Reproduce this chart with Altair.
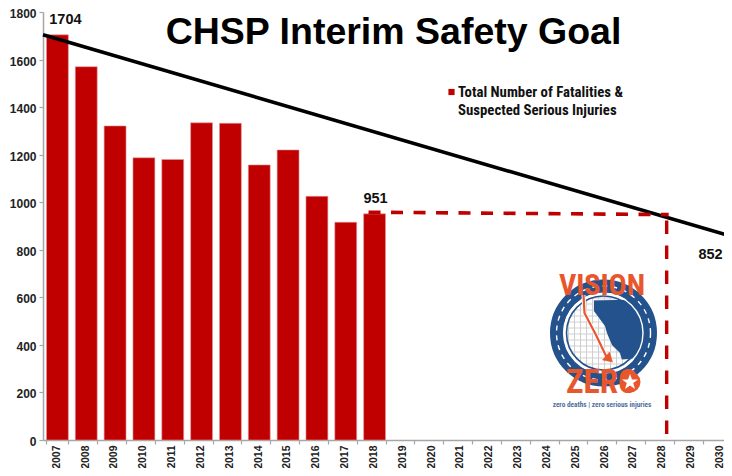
import altair as alt
import pandas as pd

# ---- chart values
years = [str(y) for y in range(2007, 2031)]
bar_years = years[:12]
bar_values = [1704, 1570, 1321, 1187, 1180, 1334, 1332, 1157, 1220, 1025, 916, 951]
y_ticks = list(range(0, 1801, 200))
goal_x = [2006.5, 2030.5]
goal_y = [1704, 852]
hold_x = [2017.79, 2028.2]
hold_y = [958, 948]
drop_x = [2028.13, 2028.13]
drop_y = [948, 17]
label_years = ["2007", "2018", "2030"]
label_values = [1704, 951, 852]
label_text = ["1704", "951", "852"]
title_text = "CHSP Interim Safety Goal"
legend_lines = ["Total Number of Fatalities &", "Suspected Serious Injuries"]

RED = "#C00000"
GREY = "#A6A6A6"
ORANGE = "#E8562E"
NAVY = "#24528C"
SANS = "Liberation Sans"
NARROW = "Roboto Condensed, Open Sans Condensed, Noto Sans Condensed, Liberation Sans"

x_band = alt.Scale(domain=years, paddingInner=0.24, paddingOuter=0.12, range=[0, 692])
x_lin = alt.Scale(domain=[2006.5, 2030.5], nice=False, zero=False, range=[0, 692])
y_lin = alt.Scale(domain=[0, 1800], nice=False)

bars = alt.Chart(pd.DataFrame({"year": bar_years, "value": bar_values})).mark_bar(
    color=RED, stroke="#E3A0A0", strokeWidth=0.6
).encode(
    x=alt.X("year:N", scale=x_band, sort=years, title=None, axis=alt.Axis(
        labelAngle=270, labelFont=SANS, labelFontWeight="bold", labelFontSize=10.5,
        labelColor="#222222", labelPadding=1, labelBaseline="middle", labelAlign="right",
        labelOffset=-1.2, tickBand="extent", tickSize=4, tickColor=GREY, domainColor=GREY,
        domainWidth=1.5, tickWidth=1.2, labelOverlap=False, labelLimit=60)),
    y=alt.Y("value:Q", scale=y_lin, title=None, axis=alt.Axis(
        values=y_ticks, format="d", grid=False, labelFont=SANS, labelFontWeight="bold", labelFontSize=12,
        labelColor="#222222", labelOffset=1.5, tickSize=4, tickColor=GREY, domainColor=GREY, domainWidth=1.5,
        tickWidth=1.2, labelPadding=3)),
)


def line(xs, ys, **mark):
    return alt.Chart(pd.DataFrame({"x": xs, "y": ys})).mark_line(**mark).encode(
        x=alt.X("x:Q", scale=x_lin, axis=None),
        y=alt.Y("y:Q", scale=y_lin, title=None),
    )


goal = line(goal_x, goal_y, color="black", strokeWidth=3.6)
hold = line(hold_x, hold_y, color=RED, strokeWidth=3.6, strokeDash=[12, 10.5])
drop = line(drop_x, drop_y, color=RED, strokeWidth=3.4, strokeDash=[13.5, 11.5], strokeDashOffset=19)


def value_text(dx, dy, yr, val, txt):
    return alt.Chart(pd.DataFrame({"year": [yr], "value": [val], "t": [txt]})).mark_text(
        font=SANS, fontWeight="bold", fontSize=14.5, color="#111111", dx=dx, dy=dy
    ).encode(
        x=alt.X("year:N", scale=x_band, sort=years, axis=None),
        y=alt.Y("value:Q", scale=y_lin, title=None),
        text="t:N",
    )


labels = [
    value_text(8, -15, label_years[0], label_values[0], label_text[0]),
    value_text(1, -15, label_years[1], label_values[1], label_text[1]),
    value_text(-10, 18, label_years[2], label_values[2], label_text[2]),
]

one = pd.DataFrame({"k": [0]})
ox, oy = 43, 12  # page position of the plot origin


def px(v):
    return alt.value(v - ox)


def py(v):
    return alt.value(v - oy)


legend_mark = alt.Chart(one).mark_point(shape="square", filled=True, color=RED, size=38, opacity=1).encode(
    x=px(451.5), y=py(92))
legend_text = [
    alt.Chart(pd.DataFrame({"t": [t]})).mark_text(
        font=NARROW, fontWeight="bold", fontSize=14.8, color="#111111", align="left", baseline="middle"
    ).encode(x=px(458), y=py(py_), text="t:N")
    for t, py_ in zip(legend_lines, [93, 111])
]

# ---- Vision Zero badge
cx, cy = 603.5, 333


def shape(path, **mark):
    mark.setdefault("opacity", 1)
    return alt.Chart(one).mark_point(shape=path, size=4, **mark).encode(x=px(cx), y=py(cy))


def ring(r, **mark):
    mark.setdefault("opacity", 1)
    return alt.Chart(one).mark_point(shape="circle", size=(2 * r) ** 2, filled=False, **mark).encode(
        x=px(cx), y=py(cy))


grid_path = ""
for g in range(-35, 36, 6):
    half = int((37 ** 2 - g ** 2) ** 0.5)
    grid_path += f"M{g} {-half}L{g} {half}M{-half} {g}L{half} {g}"
map_path = ("M-10 -33L33 -34L42 -18L44 0L41 18L31 26L18 27L16 20L8 12L3 0L1 -7L-10 -22Z")
arrow_path = "M-20 -38L-19 -20L-7 3L4 26"
head_path = "M-1 27L9 29L6 19Z"
star_path = "M0 -8L2 -2.5L8 -2.5L3.2 1L5 7L0 3.4L-5 7L-3.2 1L-8 -2.5L-2 -2.5Z"

badge = [
    shape(grid_path, stroke="#CFCFCF", strokeWidth=1, filled=False),
    shape(map_path, fill=NAVY, filled=True, stroke="white", strokeWidth=0.8),
    ring(47, stroke=NAVY, strokeWidth=13),
    ring(47, stroke="white", strokeWidth=1.4, strokeDash=[5, 5]),
    ring(39.5, stroke="white", strokeWidth=1.4),
    ring(37, stroke=NAVY, strokeWidth=1.6),
    shape(arrow_path, stroke="white", strokeWidth=4, filled=False),
    shape(arrow_path, stroke=ORANGE, strokeWidth=2.2, filled=False),
    shape(head_path, fill=ORANGE, filled=True, stroke=ORANGE, strokeWidth=0.5),
]


def logo_text(t, x, y, size, color, font=NARROW):
    return alt.Chart(pd.DataFrame({"t": [t]})).mark_text(
        font=font, fontWeight="bold", fontSize=size, color=color, align="center", baseline="middle"
    ).encode(x=px(x), y=py(y), text="t:N")


badge += [
    logo_text("VISION", 602, 286, 30, ORANGE),
    logo_text("ZERO", 602, 383, 33, ORANGE),
    alt.Chart(one).mark_point(shape="circle", size=440, filled=True, color=ORANGE, opacity=1).encode(
        x=px(630), y=py(382)),
    alt.Chart(one).mark_point(shape=star_path, size=4, filled=True, fill="white", opacity=1).encode(
        x=px(630), y=py(382)),
    logo_text("zero deaths | zero serious injuries", 602, 405, 7.3, "#4F6F9F"),
]

chart = alt.layer(bars, goal, hold, drop, *labels, legend_mark, *legend_text, *badge).resolve_scale(
    x="independent"
).properties(
    width=681,
    height=428,
    padding={"left": 35, "top": 4, "right": 0, "bottom": 28},
    autosize=alt.AutoSizeParams(type="none"),
    title=alt.TitleParams(
        title_text, font=SANS, fontWeight="bold", fontSize=37.5, color="black",
        anchor="middle", frame="group", dx=10, dy=44, offset=0,
    ),
).configure_view(stroke=None)

chart.save("out.html", embed_options={"renderer": "svg", "actions": False})
